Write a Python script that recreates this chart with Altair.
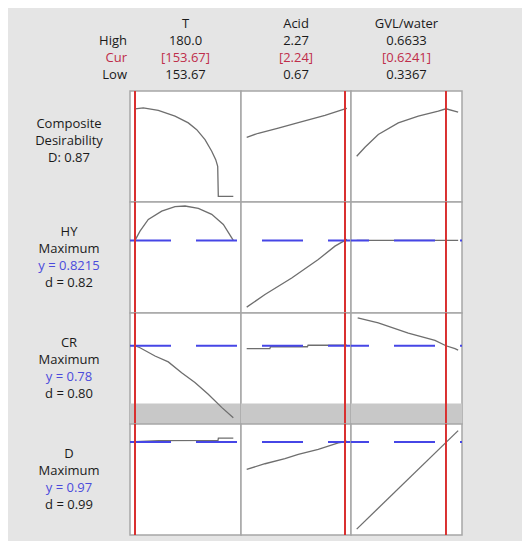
import altair as alt
import pandas as pd

FONT = "Open Sans"
BG = "#e5e5e5"
RED_LINE = "#d93030"
BLUE_LINE = "#4646e6"
RED_TXT = "#bf2d4a"
BLUE_TXT = "#4b4bdc"
CURVE = "#6e6e6e"
BLACK = "#1a1a1a"

# ---- factors (header) ----
factors = ["T", "Acid", "GVL/water"]
high_lbl = ["180.0", "2.27", "0.6633"]
cur_lbl = ["[153.67]", "[2.24]", "[0.6241]"]
low_lbl = ["153.67", "0.67", "0.3367"]
cur_v = [153.67, 2.24, 0.6241]
x_domains = [[152.33, 182.06], [0.579, 2.336], [0.3184, 0.6757]]
col_widths = [111, 110, 111]
dash_offsets = [62, 18, 39]

# ---- responses (rows) ----
label_lines = [
    ["Composite", "Desirability", "D: 0.87"],
    ["HY", "Maximum", "y = 0.8215", "d = 0.82"],
    ["CR", "Maximum", "y = 0.78", "d = 0.80"],
    ["D", "Maximum", "y = 0.97", "d = 0.99"],
]
label_colors = [
    [BLACK, BLACK, BLACK],
    [BLACK, BLACK, BLUE_TXT, BLACK],
    [BLACK, BLACK, BLUE_TXT, BLACK],
    [BLACK, BLACK, BLUE_TXT, BLACK],
]
targets = [None, 0.8215, 0.78, 0.97]
y_domains = [[-0.057, 1.049], [0.55, 0.965], [0.62, 0.847], [0.45, 1.07]]
cr_band = [0.62, 0.662]

# ---- curves ----
# Composite desirability
comp_T_x = [153.67, 155.89, 159.91, 164.39, 167.95, 170.20, 172.42, 174.22, 175.29, 175.82, 175.98, 180.0]
comp_T_y = [0.870, 0.880, 0.857, 0.798, 0.731, 0.664, 0.564, 0.449, 0.365, 0.299, 0.0, 0.0]
comp_A_x = [0.67, 0.855, 1.175, 1.494, 1.920, 2.24, 2.27]
comp_A_y = [0.588, 0.628, 0.680, 0.735, 0.805, 0.870, 0.876]
comp_G_x = [0.3367, 0.3634, 0.4062, 0.4706, 0.5350, 0.5993, 0.6241, 0.6633]
comp_G_y = [0.399, 0.489, 0.615, 0.731, 0.798, 0.848, 0.872, 0.838]
# HY
hy_T_x = [153.67, 155.01, 157.23, 160.82, 164.39, 167.07, 170.63, 174.22, 177.33, 179.58, 180.0]
hy_T_y = [0.8215, 0.856, 0.900, 0.931, 0.948, 0.950, 0.941, 0.919, 0.881, 0.831, 0.822]
hy_A_x = [0.67, 0.962, 1.389, 1.813, 2.080, 2.24, 2.27]
hy_A_y = [0.572, 0.619, 0.681, 0.750, 0.800, 0.8215, 0.826]
hy_G_x = [0.3367, 0.6633]
hy_G_y = [0.8215, 0.8215]
# CR
cr_T_x = [153.67, 155.01, 159.03, 162.59, 166.16, 169.72, 173.29, 176.88, 180.0]
cr_T_y = [0.780, 0.776, 0.759, 0.747, 0.725, 0.705, 0.681, 0.654, 0.633]
cr_A_x = [0.67, 1.04, 1.05, 1.64, 1.65, 2.27]
cr_A_y = [0.774, 0.774, 0.778, 0.778, 0.781, 0.781]
cr_G_x = [0.3399, 0.4062, 0.5028, 0.5887, 0.6241, 0.6531, 0.6633]
cr_G_y = [0.837, 0.827, 0.806, 0.791, 0.780, 0.774, 0.771]
# D
d_T_x = [153.67, 160.0, 175.9, 176.0, 180.0]
d_T_y = [0.972, 0.977, 0.978, 0.991, 0.991]
d_A_x = [0.67, 0.962, 1.281, 1.494, 1.813, 2.133, 2.24, 2.27]
d_A_y = [0.817, 0.848, 0.876, 0.900, 0.928, 0.964, 0.970, 0.975]
d_G_x = [0.3367, 0.6633]
d_G_y = [0.483, 1.033]

curves = [
    [(comp_T_x, comp_T_y), (comp_A_x, comp_A_y), (comp_G_x, comp_G_y)],
    [(hy_T_x, hy_T_y), (hy_A_x, hy_A_y), (hy_G_x, hy_G_y)],
    [(cr_T_x, cr_T_y), (cr_A_x, cr_A_y), (cr_G_x, cr_G_y)],
    [(d_T_x, d_T_y), (d_A_x, d_A_y), (d_G_x, d_G_y)],
]

ROW_H = 111
LABEL_W = 122
HEADER_H = 83
LINE_STEP = 17.0


def line_scale(first_px, height):
    d0 = -first_px / LINE_STEP
    return alt.Scale(domain=[d0, d0 + height / LINE_STEP], reverse=True, nice=False, zero=False)


def panel(r, c):
    xs = alt.Scale(domain=x_domains[c], nice=False, zero=False)
    ys = alt.Scale(domain=y_domains[r], nice=False, zero=False)
    layers = []
    if r == 2:
        layers.append(
            alt.Chart(pd.DataFrame({"lo": [cr_band[0]], "hi": [cr_band[1]]}))
            .mark_rect(color="#c8c8c8")
            .encode(y=alt.Y("lo:Q", scale=ys, axis=None), y2="hi:Q",
                    x=alt.value(0), x2=alt.value("width"))
        )
    cx, cy = curves[r][c]
    layers.append(
        alt.Chart(pd.DataFrame({"x": cx, "y": cy}))
        .mark_line(color=CURVE, strokeWidth=1.3)
        .encode(x=alt.X("x:Q", scale=xs, axis=None), y=alt.Y("y:Q", scale=ys, axis=None))
    )
    if targets[r] is not None:
        layers.append(
            alt.Chart(pd.DataFrame({"t": [targets[r]]}))
            .mark_rule(color=BLUE_LINE, strokeWidth=2, strokeDash=[41, 25],
                       strokeDashOffset=dash_offsets[c])
            .encode(y=alt.Y("t:Q", scale=ys, axis=None))
        )
    layers.append(
        alt.Chart(pd.DataFrame({"c": [cur_v[c]]}))
        .mark_rule(color=RED_LINE, strokeWidth=2)
        .encode(x=alt.X("c:Q", scale=xs, axis=None))
    )
    return alt.layer(*layers).properties(
        width=col_widths[c], height=ROW_H,
        view=alt.ViewBackground(fill="white", stroke="#a6a6a6", strokeWidth=1.5),
    )


def label_chart(r):
    lines = label_lines[r]
    n = len(lines)
    first = 30 if n == 4 else 33
    df = pd.DataFrame({"i": list(range(n)), "t": lines, "col": label_colors[r]})
    return (
        alt.Chart(df)
        .mark_text(font=FONT, fontSize=13, baseline="middle", align="center")
        .encode(
            y=alt.Y("i:Q", axis=None, scale=line_scale(first, ROW_H)),
            x=alt.value(61),
            text="t:N",
            color=alt.Color("col:N", scale=None),
        )
        .properties(width=LABEL_W, height=ROW_H)
    )


hdr_scale = line_scale(16, HEADER_H)


def header_col(c):
    df = pd.DataFrame({
        "f": [factors[c]] * 4,
        "s": [0, 1, 2, 3],
        "t": [factors[c], high_lbl[c], cur_lbl[c], low_lbl[c]],
        "col": [BLACK, BLACK, RED_TXT, BLACK],
    })
    return (
        alt.Chart(df)
        .mark_text(font=FONT, fontSize=13, baseline="middle", align="center")
        .encode(
            x=alt.X("f:N", axis=None, scale=alt.Scale(type="point", padding=0.5)),
            y=alt.Y("s:Q", axis=None, scale=hdr_scale),
            text="t:N",
            color=alt.Color("col:N", scale=None),
        )
        .properties(width=col_widths[c], height=HEADER_H)
    )


hdr_lab_df = pd.DataFrame({"s": [1, 2, 3], "t": ["High", "Cur", "Low"],
                           "col": [BLACK, RED_TXT, BLACK]})
hdr_lab = (
    alt.Chart(hdr_lab_df)
    .mark_text(font=FONT, fontSize=13, baseline="middle", align="right", dx=-3)
    .encode(
        y=alt.Y("s:Q", axis=None, scale=hdr_scale),
        x=alt.value("width"),
        text="t:N",
        color=alt.Color("col:N", scale=None),
    )
    .properties(width=LABEL_W, height=HEADER_H)
)

cells = [hdr_lab, header_col(0), header_col(1), header_col(2)]
for r in range(4):
    cells += [label_chart(r), panel(r, 0), panel(r, 1), panel(r, 2)]

chart = (
    alt.concat(*cells, columns=4, spacing=0, bounds="flush", align="each")
    .properties(background=BG, padding={"left": 0, "top": 0, "right": 58, "bottom": 4})
    .configure_view(stroke=None)
)

chart.save("out.html", embed_options={"renderer": "svg", "actions": False})
